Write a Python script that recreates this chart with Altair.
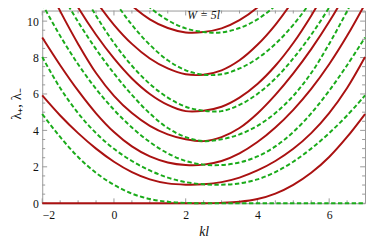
import altair as alt
import pandas as pd

# k*l sample positions (shared by every curve)
XS = [-2, -1.5, -1, -0.5, 0, 0.5, 1, 1.5, 2, 2.5, 3, 3.5, 4, 4.5, 5, 5.5, 6, 6.5, 7]

# lambda_+ branches (red, solid)
R0 = [0, 0, 0, 0, 0, 0, 0, 0, 0, 0, 0.02, 0.08, 0.23, 0.53, 1.01, 1.67, 2.54, 3.64, 4.9]
R1 = [5.92, 4.82, 3.85, 3.0, 2.28, 1.71, 1.31, 1.09, 1.02, 1.04, 1.16, 1.41, 1.8, 2.32, 2.99, 3.85, 4.95, 6.33, 8.03]
R2 = [9.1, 7.58, 6.18, 4.94, 3.91, 3.12, 2.57, 2.24, 2.1, 2.12, 2.32, 2.74, 3.36, 4.16, 5.13, 6.28, 7.63, 9.19, 10.94]
R3 = [12.5, 10.55, 8.75, 7.15, 5.9, 4.95, 4.25, 3.78, 3.51, 3.41, 3.63, 4.13, 4.93, 5.95, 7.13, 8.46, 9.96, 11.64, 13.5]
R4 = [14.35, 12.45, 10.75, 9.25, 7.95, 6.85, 6.0, 5.4, 5.06, 5.08, 5.3, 5.8, 6.55, 7.55, 8.8, 10.3, 12.0, 13.9, 16.0]
R5 = [16.5, 14.45, 12.65, 11.1, 9.8, 8.75, 7.95, 7.4, 7.08, 7.06, 7.3, 7.85, 8.7, 9.8, 11.15, 12.75, 14.6, 16.7, 19.0]
R6 = [18.2, 16.3, 14.6, 13.1, 11.85, 10.85, 10.1, 9.62, 9.38, 9.4, 9.6, 10.05, 10.75, 11.7, 12.9, 14.35, 16.0, 17.9, 20.0]

# lambda_- branches (green, dashed)
G0 = [4.9, 3.64, 2.54, 1.67, 1.01, 0.53, 0.23, 0.08, 0.02, 0, 0, 0, 0, 0, 0, 0, 0, 0, 0]
G1 = [8.03, 6.33, 4.95, 3.85, 2.99, 2.32, 1.8, 1.41, 1.16, 1.04, 1.02, 1.09, 1.31, 1.71, 2.28, 3.0, 3.85, 4.82, 5.92]
G2 = [10.94, 9.19, 7.63, 6.28, 5.13, 4.16, 3.36, 2.74, 2.32, 2.12, 2.1, 2.24, 2.57, 3.12, 3.91, 4.94, 6.18, 7.58, 9.1]
G3 = [13.5, 11.64, 9.96, 8.46, 7.13, 5.95, 4.93, 4.13, 3.63, 3.41, 3.51, 3.78, 4.25, 4.95, 5.9, 7.15, 8.75, 10.55, 12.5]
G4 = [16.0, 13.9, 12.0, 10.3, 8.8, 7.55, 6.55, 5.8, 5.3, 5.08, 5.06, 5.4, 6.0, 6.85, 7.95, 9.25, 10.75, 12.45, 14.35]
G5 = [19.0, 16.7, 14.6, 12.75, 11.15, 9.8, 8.7, 7.85, 7.3, 7.06, 7.08, 7.4, 7.95, 8.75, 9.8, 11.1, 12.65, 14.45, 16.5]
G6 = [20.0, 17.9, 16.0, 14.35, 12.9, 11.7, 10.75, 10.05, 9.6, 9.4, 9.38, 9.62, 10.1, 10.85, 11.85, 13.1, 14.6, 16.3, 18.2]

X_LABELS = [-2, 0, 2, 4, 6]
Y_LABELS = [0, 2, 4, 6, 8, 10]
X_MINOR = [-1.5, -1, -0.5, 0.5, 1, 1.5, 2.5, 3, 3.5, 4.5, 5, 5.5, 6.5]
Y_MINOR = [0.5, 1, 1.5, 2.5, 3, 3.5, 4.5, 5, 5.5, 6.5, 7, 7.5, 8.5, 9, 9.5, 10.5]

RED = "#aa1111"
GREEN = "#1aab1a"
GRAY = "#999999"


def long_df(curves):
    rows = []
    for name, ys in curves.items():
        for x, y in zip(XS, ys):
            rows.append({"x": x, "y": y, "curve": name})
    return pd.DataFrame(rows)


df_red0 = long_df({"R0": R0})
df_red = long_df({"R1": R1, "R2": R2, "R3": R3, "R4": R4, "R5": R5, "R6": R6})
df_green0 = long_df({"G0": G0})
df_green = long_df({"G1": G1, "G2": G2, "G3": G3, "G4": G4, "G5": G5, "G6": G6})

W, H = 330, 197
xscale = alt.Scale(domain=[-2, 7], nice=False, zero=False)
yscale = alt.Scale(domain=[0, 10.58], nice=False, zero=False)

xaxis = alt.Axis(values=X_LABELS, ticks=False, domain=False, grid=False,
                 labelFont="Liberation Serif", labelFontSize=12, labelColor="#111",
                 labelPadding=7, title="kl", titleFont="Liberation Serif",
                 titleFontStyle="italic", titleFontWeight="normal", titleFontSize=14,
                 titleColor="#111", titlePadding=4)
yaxis = alt.Axis(values=Y_LABELS, ticks=False, domain=False, grid=False,
                 labelFont="Liberation Serif", labelFontSize=12, labelColor="#111",
                 labelPadding=4, title="λ₊, λ₋", titleFont="Liberation Serif",
                 titleFontWeight="normal", titleFontSize=15, titleColor="#111",
                 titlePadding=3, titleY=95)

X = alt.X("x:Q", scale=xscale, axis=xaxis)
Y = alt.Y("y:Q", scale=yscale, axis=yaxis)


def red_layer(d, interp):
    return alt.Chart(d).mark_line(color=RED, strokeWidth=2, interpolate=interp).encode(
        x=X, y=Y, detail="curve:N")


def green_layer(d, interp):
    return alt.Chart(d).mark_line(color=GREEN, strokeWidth=2, strokeDash=[4.5, 2.5],
                                  interpolate=interp).encode(x=X, y=Y, detail="curve:N")


def yticks(values, length):
    d = pd.DataFrame({"y": values})
    base = alt.Chart(d).mark_rule(color=GRAY, strokeWidth=1)
    left = base.encode(y=Y, x=alt.value(0), x2=alt.value(length))
    right = base.encode(y=Y, x=alt.value(W - length), x2=alt.value(W))
    return [left, right]


def xticks(values, length):
    d = pd.DataFrame({"x": values})
    base = alt.Chart(d).mark_rule(color=GRAY, strokeWidth=1)
    bottom = base.encode(x=X, y=alt.value(H), y2=alt.value(H - length))
    top = base.encode(x=X, y=alt.value(0), y2=alt.value(length))
    return [bottom, top]


ticks = yticks(Y_LABELS, 5) + yticks(Y_MINOR, 3) + xticks(X_LABELS, 5) + xticks(X_MINOR, 3)

label = alt.Chart(pd.DataFrame({"x": [2.5], "y": [10.33], "t": ["W = 5l"]})).mark_text(
    font="Liberation Serif", fontStyle="italic", fontSize=12, color="#111").encode(
    x=X, y=Y, text="t:N")

chart = alt.layer(
    *ticks,
    red_layer(df_red0, "monotone"), red_layer(df_red, "catmull-rom"),
    green_layer(df_green0, "monotone"), green_layer(df_green, "catmull-rom"),
    label,
).properties(
    width=W, height=H,
    padding={"left": 35, "top": 0, "right": 1, "bottom": 37},
    autosize=alt.AutoSizeParams(type="none"),
).configure_view(stroke=GRAY, strokeWidth=1)

chart.save("out.html", embed_options={"renderer": "svg", "actions": False})
